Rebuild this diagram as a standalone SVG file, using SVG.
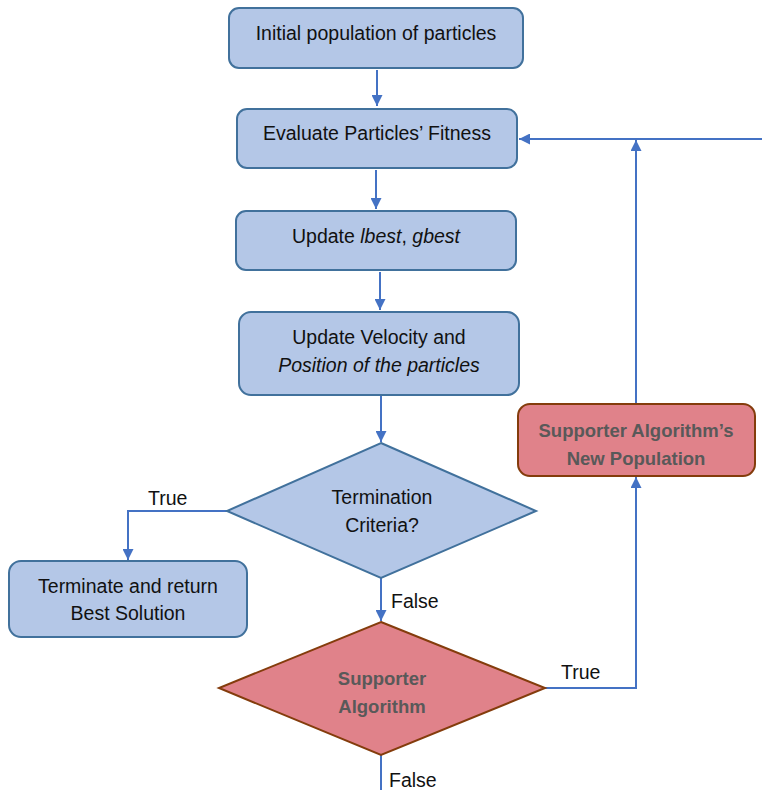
<svg xmlns="http://www.w3.org/2000/svg" width="762" height="790" viewBox="0 0 762 790">
  <style>
    .box { fill: #b4c7e7; stroke: #41719c; stroke-width: 2; }
    .alt { fill: #e0828a; stroke: #843c0c; stroke-width: 2; }
    .t { font-family: "Liberation Sans", Arial, sans-serif; font-size: 19.5px; fill: #111; text-anchor: middle; }
    .tb { font-family: "Liberation Sans", Arial, sans-serif; font-size: 18.5px; font-weight: bold; fill: #595959; text-anchor: middle; }
    .lbl { font-family: "Liberation Sans", Arial, sans-serif; font-size: 19.5px; fill: #111; }
    .c { fill: none; stroke: #4472c4; stroke-width: 2; }
  </style>
  <defs>
    <marker id="arr" viewBox="0 0 10 10" refX="10" refY="5" markerWidth="5.5" markerHeight="5.5" orient="auto" markerUnits="strokeWidth">
      <path d="M0,0 L10,5 L0,10 z" fill="#4472c4"/>
    </marker>
  </defs>

  <g id="connectors">
    <path class="c" d="M377,70 V106" marker-end="url(#arr)"/>
    <path class="c" d="M762,139 H519" marker-end="url(#arr)"/>
    <path class="c" d="M376,170 V209" marker-end="url(#arr)"/>
    <path class="c" d="M380,272 V310" marker-end="url(#arr)"/>
    <path class="c" d="M381,396 V442" marker-end="url(#arr)"/>
    <path class="c" d="M227,511 H128 V560" marker-end="url(#arr)"/>
    <path class="c" d="M381,578 V621" marker-end="url(#arr)"/>
    <path class="c" d="M545,688 H636 V477" marker-end="url(#arr)"/>
    <path class="c" d="M636,404 V140" marker-end="url(#arr)"/>
    <path class="c" d="M381,755 V790"/>
    <text class="lbl" x="148" y="505">True</text>
    <text class="lbl" x="391" y="608">False</text>
    <text class="lbl" x="561" y="679">True</text>
    <text class="lbl" x="389" y="787">False</text>
  </g>

  <g id="init">
    <rect class="box" x="229" y="8" width="294" height="60" rx="10"/>
    <text class="t" x="376" y="40">Initial population of particles</text>
  </g>
  <g id="evaluate">
    <rect class="box" x="237" y="109" width="280" height="59" rx="10"/>
    <text class="t" x="377" y="140">Evaluate Particles’ Fitness</text>
  </g>
  <g id="update-best">
    <rect class="box" x="236" y="211" width="280" height="59" rx="10"/>
    <text class="t" x="376" y="243">Update <tspan font-style="italic">lbest</tspan>, <tspan font-style="italic">gbest</tspan></text>
  </g>
  <g id="update-velocity">
    <rect class="box" x="239" y="312" width="280" height="83" rx="12"/>
    <text class="t" x="379" y="344">Update Velocity and</text>
    <text class="t" x="379" y="372" font-style="italic">Position of the particles</text>
  </g>
  <g id="termination">
    <polygon class="box" points="381,443 536,511 381,578 227,511"/>
    <text class="t" x="382" y="504">Termination</text>
    <text class="t" x="382" y="532">Criteria?</text>
  </g>
  <g id="terminate">
    <rect class="box" x="9" y="561" width="238" height="76" rx="12"/>
    <text class="t" x="128" y="593">Terminate and return</text>
    <text class="t" x="128" y="620">Best Solution</text>
  </g>
  <g id="supporter">
    <polygon class="alt" points="381,622 545,688 381,755 219,688"/>
    <text class="tb" x="382" y="685">Supporter</text>
    <text class="tb" x="382" y="713">Algorithm</text>
  </g>
  <g id="new-population">
    <rect class="alt" x="518" y="404" width="237" height="72" rx="12"/>
    <text class="tb" x="636" y="437">Supporter Algorithm’s</text>
    <text class="tb" x="636" y="465">New Population</text>
  </g>
</svg>
